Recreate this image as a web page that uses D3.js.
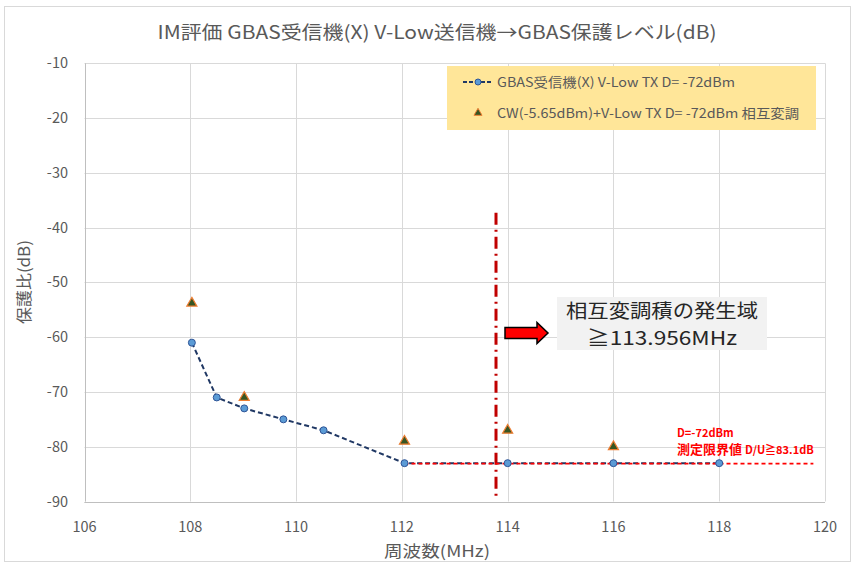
<!DOCTYPE html>
<html><head><meta charset="utf-8">
<script src="https://cdn.jsdelivr.net/npm/d3@7"></script>
<style>body{margin:0;background:#fff;} svg{display:block;}</style>
</head><body>
<svg id="c" width="854" height="564"></svg>
<script>
const freqRx = [108.03, 108.5, 109.02, 109.76, 110.52, 112.05, 114, 116, 118];
const prRx   = [-61, -71, -73, -75, -77, -83, -83, -83, -83];
const freqIM = [108.03, 109.02, 112.05, 114.0, 116.0];
const prIM   = [-53.8, -71, -79, -77, -80];
const xTicks = [106, 108, 110, 112, 114, 116, 118, 120];
const yTicks = [-10, -20, -30, -40, -50, -60, -70, -80, -90];
const limitLine = {x0: 112.05, x1: 119.78, y: -83.1};
const imMarker = {x: 113.78, y0: -37.3, y1: -89.5};
const seriesNames = ["GBAS受信機(X) V-Low TX D= -72dBm", "CW(-5.65dBm)+V-Low TX D= -72dBm 相互変調"];
const title = "IM評価 GBAS受信機(X) V-Low送信機→GBAS保護レベル(dB)";

const svg = d3.select("#c");
const font = "'Noto Sans CJK JP', 'Noto Sans', sans-serif";
const grey = "#595959";

svg.append("rect").attr("x",4.5).attr("y",6.5).attr("width",846).attr("height",555)
  .attr("fill","#fff").attr("stroke","#d9d9d9");

const x = d3.scaleLinear().domain([106,120]).range([84.5,825]);
const y = d3.scaleLinear().domain([-90,-10]).range([501.5,63.3]);

// gridlines
svg.append("g").selectAll("line.h").data(yTicks).join("line")
  .attr("x1",x(106)).attr("x2",x(120)).attr("y1",d=>Math.round(y(d))+0.5).attr("y2",d=>Math.round(y(d))+0.5)
  .attr("stroke","#d9d9d9").attr("stroke-width",1);
svg.append("g").selectAll("line.v").data(xTicks).join("line")
  .attr("x1",d=>Math.round(x(d))+0.5).attr("x2",d=>Math.round(x(d))+0.5).attr("y1",y(-10)).attr("y2",y(-90))
  .attr("stroke","#d9d9d9").attr("stroke-width",1);
// axis lines
svg.append("line").attr("x1",Math.round(x(106))+0.5).attr("x2",Math.round(x(106))+0.5).attr("y1",y(-10)).attr("y2",y(-90)).attr("stroke","#bfbfbf");
svg.append("line").attr("x1",x(106)).attr("x2",x(120)).attr("y1",Math.round(y(-90))+0.5).attr("y2",Math.round(y(-90))+0.5).attr("stroke","#bfbfbf");

// tick labels
svg.append("g").selectAll("text").data(yTicks).join("text")
  .attr("x",68).attr("y",d=>y(d)).attr("dy","0.35em").attr("text-anchor","end")
  .attr("font-family",font).attr("font-size",14.5).attr("fill",grey).text(d=>d);
svg.append("g").selectAll("text").data(xTicks).join("text")
  .attr("x",d=>x(d)).attr("y",527).attr("dy","0.35em").attr("text-anchor","middle")
  .attr("font-family",font).attr("font-size",14.5).attr("fill",grey).text(d=>d);

// titles
svg.append("text").attr("x",437).attr("y",33).attr("dy","0.35em").attr("text-anchor","middle")
  .attr("font-family",font).attr("font-size",18.5).attr("fill",grey)
  .attr("textLength",559).attr("lengthAdjust","spacingAndGlyphs").text(title);
svg.append("text").attr("x",437).attr("y",551).attr("dy","0.35em").attr("text-anchor","middle")
  .attr("font-family",font).attr("font-size",16).attr("fill",grey)
  .attr("textLength",106).attr("lengthAdjust","spacingAndGlyphs").text("周波数(MHz)");
svg.append("text").attr("transform","translate(24,282) rotate(-90)").attr("dy","0.35em").attr("text-anchor","middle")
  .attr("font-family",font).attr("font-size",16).attr("fill",grey)
  .attr("textLength",84).attr("lengthAdjust","spacingAndGlyphs").text("保護比(dB)");

// vertical IM onset marker (dash-dot)
svg.append("line").attr("x1",x(imMarker.x)).attr("x2",x(imMarker.x))
  .attr("y1",y(imMarker.y0)).attr("y2",y(imMarker.y1))
  .attr("stroke","#c00000").attr("stroke-width",3).attr("stroke-dasharray","12,5,2,5");

// series 1
const rx = freqRx.map((f,i)=>[f,prRx[i]]);
svg.append("path").datum(rx).attr("d",d3.line().x(d=>x(d[0])).y(d=>y(d[1])))
  .attr("fill","none").attr("stroke","#203864").attr("stroke-width",2).attr("stroke-dasharray","5,3");

// limit line
svg.append("line").attr("x1",x(limitLine.x0)).attr("x2",x(limitLine.x1))
  .attr("y1",y(limitLine.y)).attr("y2",y(limitLine.y))
  .attr("stroke","#ff0000").attr("stroke-width",1.8).attr("stroke-dasharray","4,3");

svg.append("g").selectAll("circle").data(rx).join("circle")
  .attr("cx",d=>x(d[0])).attr("cy",d=>y(d[1])).attr("r",3.5)
  .attr("fill","#5b9bd5").attr("stroke","#2f5597").attr("stroke-width",1);

// series 2 triangles
const tri = d3.symbol().type(d3.symbolTriangle).size(44);
const im = freqIM.map((f,i)=>[f,prIM[i]]);
svg.append("g").selectAll("path").data(im).join("path")
  .attr("transform",d=>`translate(${x(d[0])},${y(d[1])})`).attr("d",tri)
  .attr("fill","#375623").attr("stroke","#ed7d31").attr("stroke-width",1.2);

// legend
const lg = svg.append("g");
lg.append("rect").attr("x",447).attr("y",66).attr("width",369).attr("height",64).attr("fill","#ffe699");
lg.append("line").attr("x1",463).attr("x2",493).attr("y1",82).attr("y2",82)
  .attr("stroke","#203864").attr("stroke-width",2).attr("stroke-dasharray","4,2");
lg.append("circle").attr("cx",478).attr("cy",82).attr("r",3).attr("fill","#5b9bd5").attr("stroke","#2f5597");
lg.append("text").attr("x",497).attr("y",82).attr("dy","0.35em").attr("font-family",font).attr("font-size",13).attr("fill",grey)
  .attr("textLength",238).attr("lengthAdjust","spacingAndGlyphs").text(seriesNames[0]);
lg.append("path").attr("transform","translate(478,113)").attr("d",d3.symbol().type(d3.symbolTriangle).size(28))
  .attr("fill","#375623").attr("stroke","#ed7d31");
lg.append("text").attr("x",497).attr("y",113).attr("dy","0.35em").attr("font-family",font).attr("font-size",13).attr("fill",grey)
  .attr("textLength",302).attr("lengthAdjust","spacingAndGlyphs").text(seriesNames[1]);

// arrow
svg.append("path").attr("d","M505,327.5 L537,327.5 L537,322.5 L548,333 L537,343.5 L537,338.5 L505,338.5 Z")
  .attr("fill","#ff0000").attr("stroke","#000").attr("stroke-width",1.5);

// annotation box
svg.append("rect").attr("x",557).attr("y",297).attr("width",210).attr("height",53).attr("fill","#f2f2f2");
svg.append("text").attr("x",662).attr("y",311).attr("dy","0.35em").attr("text-anchor","middle")
  .attr("font-family",font).attr("font-size",19).attr("fill","#262626")
  .attr("textLength",192).attr("lengthAdjust","spacingAndGlyphs").text("相互変調積の発生域");
svg.append("text").attr("x",662).attr("y",338).attr("dy","0.35em").attr("text-anchor","middle")
  .attr("font-family",font).attr("font-size",19).attr("fill","#262626")
  .attr("textLength",150).attr("lengthAdjust","spacingAndGlyphs").text("≧113.956MHz");

// limit annotation
svg.append("text").attr("x",677).attr("y",433).attr("dy","0.35em")
  .attr("font-family",font).attr("font-size",11).attr("font-weight","bold").attr("fill","#ff0000").text("D=-72dBm");
const t2 = svg.append("text").attr("x",677).attr("y",448).attr("dy","0.35em")
  .attr("font-family",font).attr("font-weight","bold").attr("fill","#ff0000");
t2.append("tspan").attr("font-size",13).text("測定限界値 ");
t2.append("tspan").attr("font-size",11).text("D/U≧83.1dB");
</script>
</body></html>
